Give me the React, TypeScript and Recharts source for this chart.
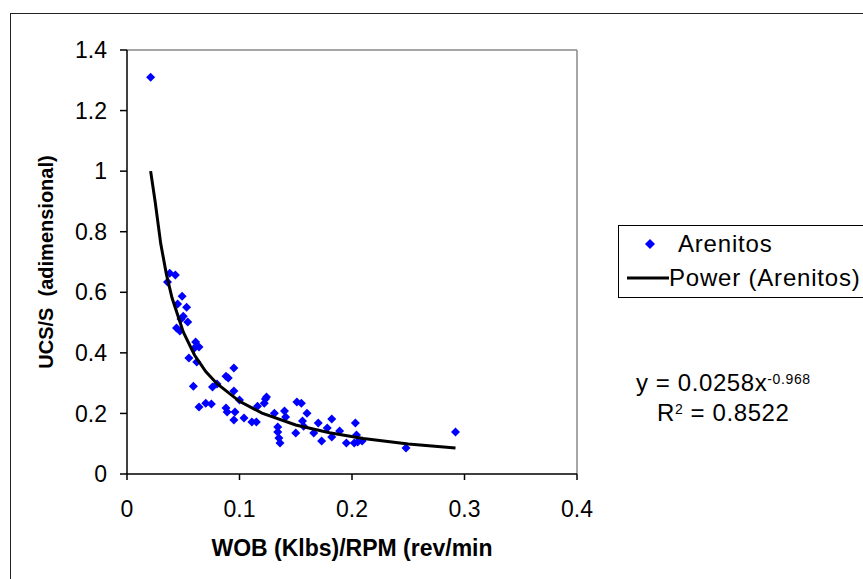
import React from 'react';
import {
  ScatterChart,
  Scatter,
  XAxis,
  YAxis,
  ReferenceLine,
} from 'recharts';

// measured points (WOB/RPM vs UCS/S)
const wobRpm = [
  0.021, 0.038, 0.043, 0.036, 0.049, 0.045, 0.053, 0.05, 0.048, 0.054, 0.044, 0.047,
  0.061, 0.064, 0.06, 0.055, 0.062, 0.059, 0.064, 0.07, 0.075, 0.076, 0.08, 0.088,
  0.09, 0.095, 0.095, 0.088, 0.089, 0.096, 0.095, 0.1, 0.104, 0.111, 0.115, 0.116,
  0.123, 0.124, 0.122, 0.131, 0.134, 0.134, 0.135, 0.136, 0.14, 0.141, 0.151, 0.155,
  0.15, 0.156, 0.157, 0.16, 0.166, 0.17, 0.173, 0.178, 0.182, 0.182, 0.189, 0.195,
  0.203, 0.204, 0.202, 0.205, 0.209, 0.248, 0.292,
];
const ucsS = [
  1.31, 0.663, 0.657, 0.634, 0.587, 0.561, 0.551, 0.521, 0.512, 0.502, 0.482, 0.472,
  0.436, 0.419, 0.416, 0.383, 0.37, 0.29, 0.221, 0.234, 0.231, 0.287, 0.297, 0.323,
  0.317, 0.35, 0.274, 0.218, 0.205, 0.205, 0.178, 0.244, 0.185, 0.172, 0.172, 0.224,
  0.248, 0.254, 0.234, 0.201, 0.155, 0.139, 0.119, 0.102, 0.208, 0.188, 0.238, 0.234,
  0.135, 0.175, 0.158, 0.201, 0.135, 0.168, 0.109, 0.152, 0.182, 0.122, 0.142, 0.102,
  0.168, 0.129, 0.102, 0.106, 0.109, 0.086, 0.139,
];

// power trendline as drawn
const trendX = [0.021, 0.025, 0.03, 0.035, 0.04, 0.05, 0.06, 0.07, 0.08, 0.1, 0.12, 0.15, 0.18, 0.21, 0.25, 0.292];
const trendY = [1.0, 0.9, 0.76, 0.66, 0.582, 0.469, 0.393, 0.338, 0.298, 0.24, 0.201, 0.162, 0.136, 0.117, 0.099, 0.086];

const xTicks = [0, 0.1, 0.2, 0.3, 0.4];
const yTicks = [0, 0.2, 0.4, 0.6, 0.8, 1, 1.2, 1.4];

const points = wobRpm.map((x, i) => ({ x, y: ucsS[i] }));
const trend = trendX.map((x, i) => ({ x, y: trendY[i] }));

const FONT = '"Liberation Sans", Arial, sans-serif';
const BLUE = '#0000ff';

const Diamond = (props: any) => {
  const { cx, cy } = props;
  if (cx == null || cy == null) return <g />;
  const r = 4.5;
  return <path d={`M${cx},${cy - r}L${cx + r},${cy}L${cx},${cy + r}L${cx - r},${cy}Z`} fill={BLUE} />;
};

const LegendBox = () => (
  <div
    style={{
      position: 'absolute',
      left: 618,
      top: 225,
      border: '1.5px solid #000',
      width: 260,
      height: 73,
      fontFamily: FONT,
      fontSize: 24,
      letterSpacing: 0.8,
      color: '#000',
      boxSizing: 'border-box',
    }}
  >
    <div style={{ display: 'flex', alignItems: 'center', height: 34, marginTop: 1 }}>
      <svg width={48} height={20}>
        <path d="M31,5L36,10L31,15L26,10Z" fill={BLUE} />
      </svg>
      <span style={{ marginLeft: 11 }}>Arenitos</span>
    </div>
    <div style={{ display: 'flex', alignItems: 'center', height: 34 }}>
      <svg width={50} height={20}>
        <line x1={8} y1={10} x2={50} y2={10} stroke="#000" strokeWidth={3} />
      </svg>
      <span>Power (Arenitos)</span>
    </div>
  </div>
);

export default function App() {
  return (
    <div style={{ position: 'absolute', left: 0, top: 0, width: 863, height: 579, overflow: 'hidden', background: '#fff' }}>
      <div style={{ position: 'absolute', left: 10, top: 13, width: 900, height: 620, border: '1.5px solid #222' }} />
      <div style={{ position: 'absolute', left: 0, top: 0 }}>
        <ScatterChart width={863} height={579} margin={{ top: 50, right: 286, bottom: 45, left: 47 }}>
          <XAxis
            type="number"
            dataKey="x"
            domain={[0, 0.4]}
            ticks={xTicks}
            interval={0}
            height={60}
            axisLine={{ stroke: '#000', strokeWidth: 1.5 }}
            tickLine={{ stroke: '#000', strokeWidth: 1.5 }}
            tickSize={6}
            tickMargin={21}
            tick={{ fill: '#000', fontSize: 23, fontFamily: FONT }}
            label={({ viewBox }: any) => (
              <text
                x={viewBox.x + viewBox.width / 2}
                y={556}
                textAnchor="middle"
                fontFamily={FONT}
                fontWeight="bold"
                fontSize={23}
                fill="#000"
              >
                WOB (Klbs)/RPM (rev/min
              </text>
            )}
          />
          <YAxis
            type="number"
            dataKey="y"
            domain={[0, 1.4]}
            ticks={yTicks}
            interval={0}
            width={80}
            axisLine={{ stroke: '#000', strokeWidth: 1.5 }}
            tickLine={{ stroke: '#000', strokeWidth: 1.5 }}
            tickSize={7}
            tickMargin={13}
            tick={{ fill: '#000', fontSize: 23, fontFamily: FONT }}
            label={({ viewBox }: any) => (
              <text
                x={0}
                y={0}
                transform={`translate(53, ${viewBox.y + viewBox.height / 2}) rotate(-90)`}
                textAnchor="middle"
                fontFamily={FONT}
                fontWeight="bold"
                fontSize={20}
                fill="#000"
              >
                {'UCS/S\u00a0\u00a0(adimensional)'}
              </text>
            )}
          />
          <ReferenceLine y={1.4} stroke="#888" strokeWidth={1.5} ifOverflow="visible" />
          <ReferenceLine x={0.4} stroke="#888" strokeWidth={1.5} ifOverflow="visible" />
          <Scatter name="Arenitos" data={points} shape={Diamond} isAnimationActive={false} />
          <Scatter
            name="Power (Arenitos)"
            data={trend}
            line={{ stroke: '#000', strokeWidth: 3 }}
            lineType="joint"
            shape={() => <g />}
            isAnimationActive={false}
          />
        </ScatterChart>
      </div>
      <LegendBox />
      <div
        style={{
          position: 'absolute',
          left: 636,
          top: 368,
          fontFamily: FONT,
          fontSize: 24,
          letterSpacing: 0.6,
          color: '#000',
          lineHeight: '30px',
        }}
      >
        <div>
          y = 0.0258x<sup style={{ fontSize: 14, verticalAlign: 'top', position: 'relative', top: -4 }}>-0.968</sup>
        </div>
        <div style={{ paddingLeft: 21 }}>
          R<sup style={{ fontSize: 14, verticalAlign: 'top', position: 'relative', top: -4 }}>2</sup> = 0.8522
        </div>
      </div>
    </div>
  );
}
